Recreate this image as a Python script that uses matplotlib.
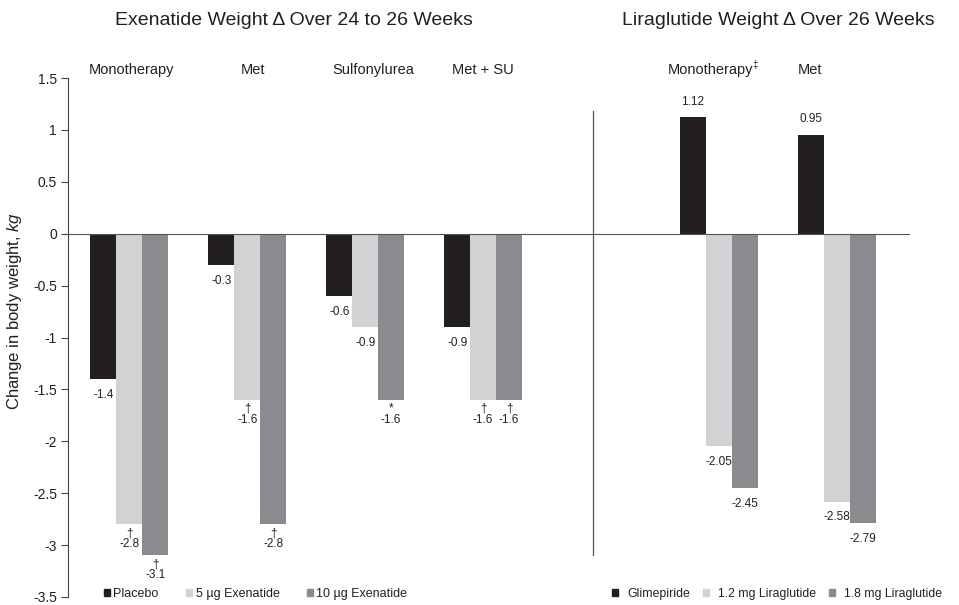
import numpy as np
import matplotlib
matplotlib.use("Agg")
import matplotlib.pyplot as plt
from matplotlib.patches import Patch

plt.rcParams['font.family'] = ['Liberation Sans', 'DejaVu Sans']
plt.rcParams['axes.unicode_minus'] = False
plt.rcParams['mathtext.fontset'] = 'custom'
plt.rcParams['mathtext.rm'] = 'Liberation Sans'
plt.rcParams['mathtext.it'] = 'Liberation Sans:italic'

# exenatide trials
exe_groups = ["Monotherapy", "Met", "Sulfonylurea", "Met + SU"]
placebo = [-1.4, -0.3, -0.6, -0.9]
exe5 = [-2.8, -1.6, -0.9, -1.6]
exe10 = [-3.1, -2.8, -1.6, -1.6]
placebo_marks = ["", "", "", ""]
exe5_marks = ["†", "†", "", "†"]
exe10_marks = ["†", "†", "*", "†"]

# liraglutide trials
lira_groups = ["Monotherapy", "Met"]
glim = [1.12, 0.95]
lira12 = [-2.05, -2.58]
lira18 = [-2.45, -2.79]

exe_legend = ["Placebo", "5 µg Exenatide", "10 µg Exenatide"]
lira_legend = ["Glimepiride", "1.2 mg Liraglutide", "1.8 mg Liraglutide"]

c_dark = "#231f20"
c_light = "#d1d2d4"
c_mid = "#8a8b8e"
c_text = "#231f20"

fig = plt.figure(figsize=(9.59, 6.05), dpi=100)
ax = fig.add_axes([68/959, 1-597/605, (910-68)/959, (597-78)/605])

w = 0.22
exe_x = np.arange(len(exe_groups))
lira_x = np.array([5, 6])


def label_bars(bars, vals, marks=None):
    for i, (b, v) in enumerate(zip(bars, vals)):
        xc = b.get_x() + b.get_width() / 2
        m = marks[i] if marks else ""
        if v >= 0:
            ax.annotate("%g" % v, (xc, v), xytext=(0, 7), textcoords="offset points",
                        ha="center", va="bottom", fontsize=8.5, color=c_text)
        elif m:
            ax.annotate(m + "\n" + "%g" % v, (xc, v), xytext=(0, -2), textcoords="offset points",
                        ha="center", va="top", fontsize=8.5, color=c_text, linespacing=0.9)
        else:
            ax.annotate("%g" % v, (xc, v), xytext=(0, -7), textcoords="offset points",
                        ha="center", va="top", fontsize=8.5, color=c_text)


b1 = ax.bar(exe_x - w, placebo, w, color=c_dark)
b2 = ax.bar(exe_x, exe5, w, color=c_light)
b3 = ax.bar(exe_x + w, exe10, w, color=c_mid)
label_bars(b1, placebo, placebo_marks)
label_bars(b2, exe5, exe5_marks)
label_bars(b3, exe10, exe10_marks)

l1 = ax.bar(lira_x - w, glim, w, color=c_dark)
l2 = ax.bar(lira_x, lira12, w, color=c_light)
l3 = ax.bar(lira_x + w, lira18, w, color=c_mid)
label_bars(l1, glim)
label_bars(l2, lira12)
label_bars(l3, lira18)

ax.axhline(0, color="#555", lw=0.8)
ax.plot([3.93, 3.93], [1.18, -3.1], color="#555", lw=0.9)

ax.set_xlim(-0.52, 6.62)
ax.set_ylim(-3.5, 1.5)
ticks = np.linspace(-3.5, 1.5, 11)
ax.set_yticks(ticks)
ax.set_yticklabels(["%g" % t for t in ticks])
ax.set_xticks([])
for s in ["top", "right", "bottom"]:
    ax.spines[s].set_visible(False)
ax.spines["left"].set_color("#444")
ax.tick_params(axis="y", direction="out", length=5, color="#444", labelsize=10,
               pad=3, labelcolor=c_text)
ax.set_ylabel(r"Change in body weight, $\mathit{kg}$", fontsize=12, color=c_text)
ax.yaxis.set_label_coords(-0.052, 0.55)

# group labels
exe_label_x = [0.02, 1.05, 2.07, 3.0]
for gx, g in zip(exe_label_x, exe_groups):
    ax.text(gx, 1.58, g, ha="center", va="center", fontsize=10.5, color=c_text)
ax.text(4.93, 1.58, lira_groups[0], ha="center", va="center", fontsize=10.5, color=c_text)
ax.text(5.28, 1.63, "‡", ha="left", va="center", fontsize=7, color=c_text)
ax.text(5.77, 1.58, lira_groups[1], ha="center", va="center", fontsize=10.5, color=c_text)

ax.text(1.40, 2.05, "Exenatide Weight Δ Over 24 to 26 Weeks", ha="center", va="center",
        fontsize=14, color=c_text)
ax.text(5.5, 2.05, "Liraglutide Weight Δ Over 26 Weeks", ha="center", va="center",
        fontsize=14, color=c_text)

cols = [c_dark, c_light, c_mid]
h1 = [Patch(color=c) for c in cols]
fig.legend(h1, exe_legend, loc="center left", bbox_to_anchor=(104/959, 1-594/605),
           ncol=3, frameon=False, fontsize=9, handlelength=0.5, handleheight=0.5,
           handletextpad=0.25, columnspacing=2.2, borderaxespad=0, borderpad=0,
           labelcolor=c_text)
fig.legend(h1, lira_legend, loc="center left", bbox_to_anchor=(612/959, 1-594/605),
           ncol=3, frameon=False, fontsize=8.8, handlelength=0.5, handleheight=0.5,
           handletextpad=0.75, columnspacing=1.05, borderaxespad=0, borderpad=0,
           labelcolor=c_text)

fig.savefig("out.png", dpi=100)
